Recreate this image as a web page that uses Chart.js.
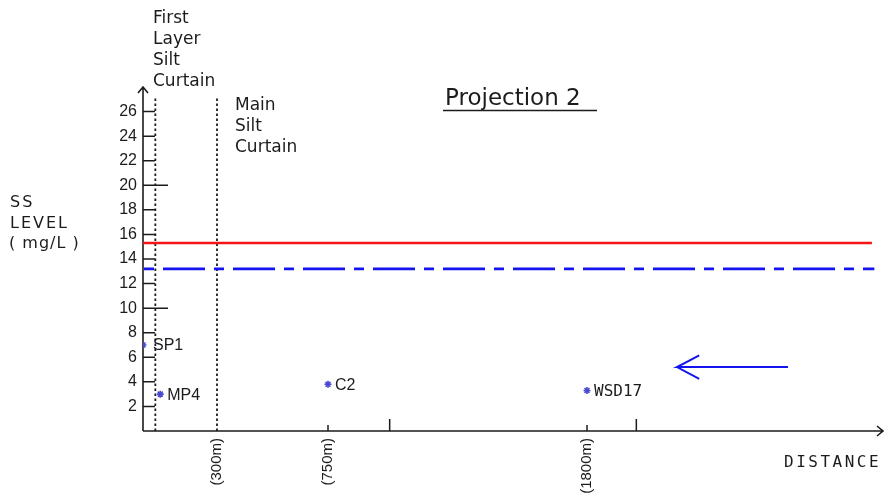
<!DOCTYPE html>
<html>
<head>
    <meta charset="UTF-8">
    <title>Projection 2</title>
    <script src="https://cdn.jsdelivr.net/npm/chart.js"></script>
    <style>
        body {
            margin: 0;
            background-color: #fff;
        }
        .chart-container {
            width: 890px;
            height: 493px;
        }
    </style>
</head>
<body>
    <div class="chart-container">
        <canvas id="chart"></canvas>
    </div>
    <script>
    // monitoring stations
    const stations = ['SP1', 'MP4', 'C2', 'WSD17'];
    const stationDistance = [0, 70, 750, 1800];
    const stationSS = [7.0, 3.0, 3.8, 3.3];

    // axis ticks
    const yTickValues = [2, 4, 6, 8, 10, 12, 14, 16, 18, 20, 22, 24, 26];
    const xTickValues = [300, 750, 1800];
    const xTickLabels = ['(300m)', '(750m)', '(1800m)'];
    const xMinorTicks = [750, 1000, 1800, 2000];
    const xMinorLong = [false, true, false, true];

    // horizontal levels
    const limitLevel = 15.3;
    const limitExtent = [0, 2955];
    const actionLevel = 13.2;
    const actionExtent = [0, 2965];

    // silt curtains
    const curtainNames = [['First', 'Layer', 'Silt', 'Curtain'], ['Main', 'Silt', 'Curtain']];
    const curtainDistance = [50, 300];
    const curtainTop = 27.2;

    // flow arrow (tail, tip, head, tip, head)
    const arrowX = [2615, 2165, 2255, 2165, 2255];
    const arrowY = [5.2, 5.2, 6.15, 5.2, 4.25];

    const ink = '#1c1c1c';

    const hLine = (level, ext) => ext.map(d => ({ x: d, y: level }));
    const vLine = d => [{ x: d, y: 0 }, { x: d, y: curtainTop }];

    const drawingPlugin = {
        id: 'drawing',
        beforeDatasetsDraw(chart) {
            const { ctx, scales: { x, y } } = chart;
            const x0 = x.getPixelForValue(0);
            const y0 = y.getPixelForValue(0);
            const xEnd = x.getPixelForValue(3000);
            const yTop = y.getPixelForValue(28);
            ctx.save();
            ctx.strokeStyle = ink;
            ctx.lineWidth = 1.6;
            ctx.beginPath();
            // y axis with arrow
            ctx.moveTo(x0, y0);
            ctx.lineTo(x0, yTop);
            ctx.moveTo(x0 - 5, yTop + 6);
            ctx.lineTo(x0, yTop);
            ctx.lineTo(x0 + 5, yTop + 6);
            // x axis with arrow
            ctx.moveTo(x0, y0);
            ctx.lineTo(xEnd, y0);
            ctx.moveTo(xEnd - 6, y0 - 5);
            ctx.lineTo(xEnd, y0);
            ctx.lineTo(xEnd - 6, y0 + 5);
            ctx.stroke();

            // inward y ticks
            ctx.lineWidth = 1.5;
            ctx.beginPath();
            yTickValues.forEach(v => {
                const py = y.getPixelForValue(v);
                ctx.moveTo(x0, py);
                ctx.lineTo(x0 + (v % 10 === 0 ? 25 : 12), py);
            });
            // small x ticks
            xMinorTicks.forEach((d, i) => {
                const px = x.getPixelForValue(d);
                ctx.moveTo(px, y0);
                ctx.lineTo(px, y0 - (xMinorLong[i] ? 12 : 6));
            });
            ctx.stroke();
            ctx.restore();
        },
        afterDatasetsDraw(chart) {
            const { ctx, scales: { x, y } } = chart;
            ctx.save();
            ctx.fillStyle = ink;
            ctx.textBaseline = 'middle';
            ctx.textAlign = 'left';

            // station labels
            stations.forEach((name, i) => {
                const px = x.getPixelForValue(stationDistance[i]);
                const py = y.getPixelForValue(stationSS[i]);
                if (name === 'WSD17') {
                    ctx.font = '16px "DejaVu Sans Mono"';
                } else {
                    ctx.font = '16px "Liberation Sans"';
                }
                ctx.fillText(name, px + (i === 0 ? 10 : 7), py + 1);
            });

            ctx.textBaseline = 'alphabetic';

            // curtain labels
            ctx.font = '17px "DejaVu Sans"';
            curtainNames[0].forEach((t, i) => ctx.fillText(t, 153, 23 + i * 21));
            curtainNames[1].forEach((t, i) => ctx.fillText(t, 235, 110 + i * 21));

            // title
            ctx.font = '23px "DejaVu Sans"';
            ctx.fillText('Projection 2', 445, 105);
            ctx.strokeStyle = ink;
            ctx.lineWidth = 1.5;
            ctx.beginPath();
            ctx.moveTo(443, 110.5);
            ctx.lineTo(597, 110.5);
            ctx.stroke();

            // axis titles
            ctx.font = '16px "DejaVu Sans"';
            ctx.letterSpacing = '2px';
            ctx.fillText('SS', 10, 207);
            ctx.fillText('LEVEL', 10, 228);
            ctx.letterSpacing = '1px';
            ctx.fillText('( mg/L )', 9, 248);
            ctx.font = '16px "DejaVu Sans Mono"';
            ctx.letterSpacing = '2.5px';
            ctx.fillText('DISTANCE', 784, 467);
            ctx.restore();
        }
    };

    new Chart(document.getElementById('chart'), {
        type: 'scatter',
        data: {
            datasets: [
                {
                    label: 'Stations',
                    data: stations.map((s, i) => ({ x: stationDistance[i], y: stationSS[i] })),
                    pointStyle: 'star',
                    radius: 3.5,
                    borderColor: '#4a4ad0',
                    backgroundColor: '#4a4ad0',
                    borderWidth: 1.6,
                    order: 0
                },
                {
                    label: 'Limit level',
                    data: hLine(limitLevel, limitExtent),
                    showLine: true,
                    borderColor: '#f51414',
                    borderWidth: 2.6,
                    pointRadius: 0,
                    order: 2
                },
                {
                    label: 'Action level',
                    data: hLine(actionLevel, actionExtent),
                    showLine: true,
                    borderColor: '#1414f0',
                    borderWidth: 2.8,
                    borderDash: [42, 9, 10, 9],
                    borderDashOffset: -20,
                    pointRadius: 0,
                    order: 2
                },
                {
                    label: 'First layer silt curtain',
                    data: vLine(curtainDistance[0]),
                    showLine: true,
                    borderColor: ink,
                    borderWidth: 1.8,
                    borderDash: [2.5, 2.5],
                    pointRadius: 0,
                    order: 3
                },
                {
                    label: 'Main silt curtain',
                    data: vLine(curtainDistance[1]),
                    showLine: true,
                    borderColor: ink,
                    borderWidth: 1.8,
                    borderDash: [2.5, 2.5],
                    pointRadius: 0,
                    order: 3
                },
                {
                    label: 'Flow',
                    data: arrowX.map((d, i) => ({ x: d, y: arrowY[i] })),
                    showLine: true,
                    borderColor: '#1414f0',
                    borderWidth: 2,
                    pointRadius: 0,
                    tension: 0,
                    order: 1
                }
            ]
        },
        options: {
            responsive: true,
            maintainAspectRatio: false,
            animation: false,
            layout: {
                padding: { top: 87, right: 7, left: 0, bottom: 0 }
            },
            plugins: {
                legend: { display: false },
                tooltip: { enabled: false },
                title: { display: false }
            },
            scales: {
                x: {
                    type: 'linear',
                    min: 0,
                    max: 3000,
                    grid: { display: false, drawTicks: false },
                    border: { display: false },
                    afterBuildTicks: scale => {
                        scale.ticks = xTickValues.map(v => ({ value: v }));
                    },
                    afterFit: scale => {
                        scale.height = 62;
                    },
                    ticks: {
                        autoSkip: false,
                        minRotation: 90,
                        maxRotation: 90,
                        padding: 7,
                        color: ink,
                        font: { family: 'Liberation Sans', size: 15 },
                        callback: value => xTickLabels[xTickValues.indexOf(value)]
                    }
                },
                y: {
                    type: 'linear',
                    min: 0,
                    max: 28,
                    grid: { display: false, drawTicks: false },
                    border: { display: false },
                    afterBuildTicks: scale => {
                        scale.ticks = yTickValues.map(v => ({ value: v }));
                    },
                    afterFit: scale => {
                        scale.width = 143;
                    },
                    ticks: {
                        padding: 6,
                        color: ink,
                        font: { family: 'Liberation Sans', size: 16 }
                    }
                }
            }
        },
        plugins: [drawingPlugin]
    });
    </script>
</body>
</html>
